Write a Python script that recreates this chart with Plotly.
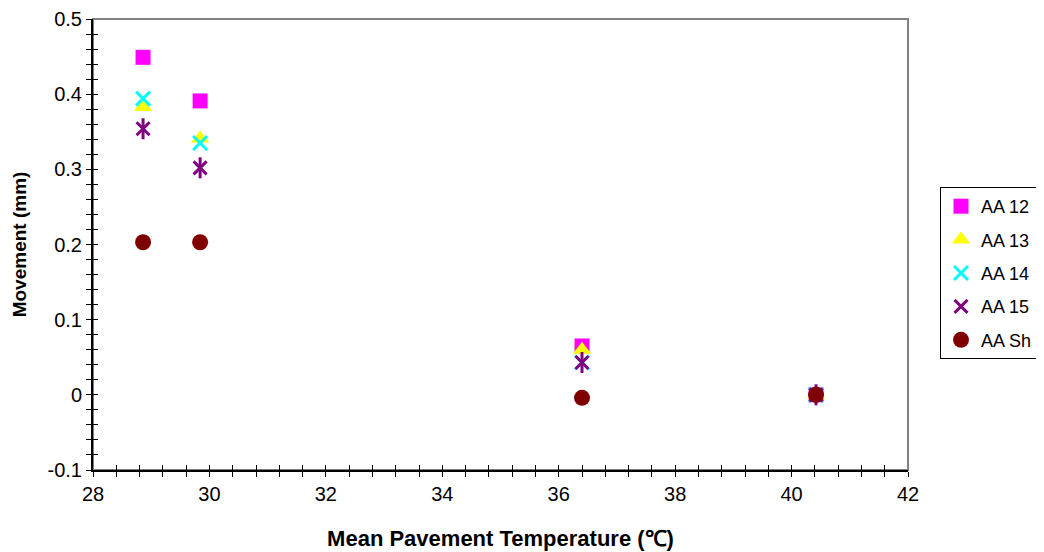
import plotly.graph_objects as go

temps = [28.86, 29.84, 36.40, 40.42]
aa12 = [0.449, 0.391, 0.065, 0.0]
aa13 = [0.383, 0.341, 0.060, 0.0]
aa14 = [0.394, 0.335, 0.043, 0.0]
aa15 = [0.354, 0.302, 0.043, 0.0]
aash = [0.203, 0.203, -0.004, 0.0]

names = ["AA 12", "AA 13", "AA 14", "AA 15", "AA Sh"]
colors = ["#FF00FF", "#FFFF00", "#00FFFF", "#800080", "#800000"]

x_tickvals = [28, 30, 32, 34, 36, 38, 40, 42]
y_tickvals = [0.5, 0.4, 0.3, 0.2, 0.1, 0, -0.1]
y_ticktext = ["0.5", "0.4", "0.3", "0.2", "0.1", "0", "-0.1"]

FONT = "Liberation Sans, Arial, sans-serif"
FS = 20
W, H = 1036, 544

fig = go.Figure()
fig.add_trace(go.Scatter(x=temps, y=aa12, mode="markers", name=names[0], legendgroup="g1",
                         marker=dict(symbol="square", size=15, color=colors[0])))
fig.add_trace(go.Scatter(x=temps, y=aa13, mode="markers", name=names[1], legendgroup="g2",
                         marker=dict(symbol="triangle-up", size=16, color=colors[1])))
fig.add_trace(go.Scatter(x=temps, y=aa14, mode="markers", name=names[2], legendgroup="g3",
                         marker=dict(symbol="x-thin-open", size=14, color=colors[2],
                                     line=dict(color=colors[2], width=3))))
fig.add_trace(go.Scatter(x=temps, y=aa15, mode="markers", name=names[3], legendgroup="g4",
                         marker=dict(symbol="x-thin-open", size=13, color=colors[3],
                                     line=dict(color=colors[3], width=3))))
fig.add_trace(go.Scatter(x=temps, y=aa15, mode="markers", name=names[3], legendgroup="g4",
                         showlegend=False,
                         marker=dict(symbol="line-ns-open", size=15, color=colors[3],
                                     line=dict(color=colors[3], width=3))))
fig.add_trace(go.Scatter(x=temps, y=aash, mode="markers", name=names[4], legendgroup="g5",
                         marker=dict(symbol="circle", size=16, color=colors[4])))

# border (top/right gray)
fig.add_shape(type="rect", xref="paper", yref="paper", x0=0, x1=1, y0=0, y1=1,
              line=dict(color="#808080", width=2), layer="below")

fig.update_layout(
    width=W, height=H,
    margin=dict(l=85, r=136, t=11, b=82, autoexpand=False),
    paper_bgcolor="white", plot_bgcolor="white",
    font=dict(family=FONT, size=FS, color="black"),
    showlegend=True,
    legend=dict(xref="container", yref="container", x=932 / W, y=1 - 179 / H,
                xanchor="left", yanchor="top",
                bordercolor="black", borderwidth=1, bgcolor="white",
                font=dict(size=18), itemwidth=30, tracegroupgap=7,
                traceorder="grouped"),
    xaxis=dict(range=[28, 42], tickvals=x_tickvals, showgrid=False, zeroline=False,
               showline=True, linecolor="black", linewidth=2, automargin=False,
               ticks="outside", ticklen=5, tickwidth=1, tickcolor="black",
               minor=dict(dtick=0.4, ticks="outside", ticklen=5, tickwidth=1, tickcolor="black"),
               title=dict(text="<b>Mean Pavement Temperature (℃)</b>", standoff=27,
                          font=dict(size=22)),
               tickfont=dict(size=FS)),
    yaxis=dict(range=[-0.1, 0.5], tickvals=y_tickvals, ticktext=y_ticktext,
               showgrid=False, zeroline=False, automargin=False,
               showline=True, linecolor="black", linewidth=2,
               ticks="outside", ticklen=5, tickwidth=1, tickcolor="black",
               minor=dict(dtick=0.02, tick0=0, ticks="outside", ticklen=5, tickwidth=1, tickcolor="black"),
               title=dict(text="<b>Movement (mm)</b>", standoff=16, font=dict(size=19)),
               tickfont=dict(size=FS)),
    xaxis2=dict(range=[28, 42], overlaying="x", anchor="y", side="bottom",
                showgrid=False, zeroline=False, showticklabels=False,
                tickvals=x_tickvals, ticks="inside", ticklen=5, tickcolor="black",
                minor=dict(dtick=0.4, ticks="inside", ticklen=5, tickcolor="black")),
    yaxis2=dict(range=[-0.1, 0.5], overlaying="y", anchor="x", side="left",
                showgrid=False, zeroline=False, showticklabels=False,
                tickvals=y_tickvals, ticks="inside", ticklen=5, tickcolor="black",
                minor=dict(dtick=0.02, tick0=0, ticks="inside", ticklen=5, tickcolor="black")),
)
# invisible trace to activate overlay axes
fig.add_trace(go.Scatter(x=[28], y=[0], xaxis="x2", yaxis="y2", mode="markers",
                         marker=dict(opacity=0), showlegend=False, hoverinfo="skip"))

fig.write_html("out.html")
